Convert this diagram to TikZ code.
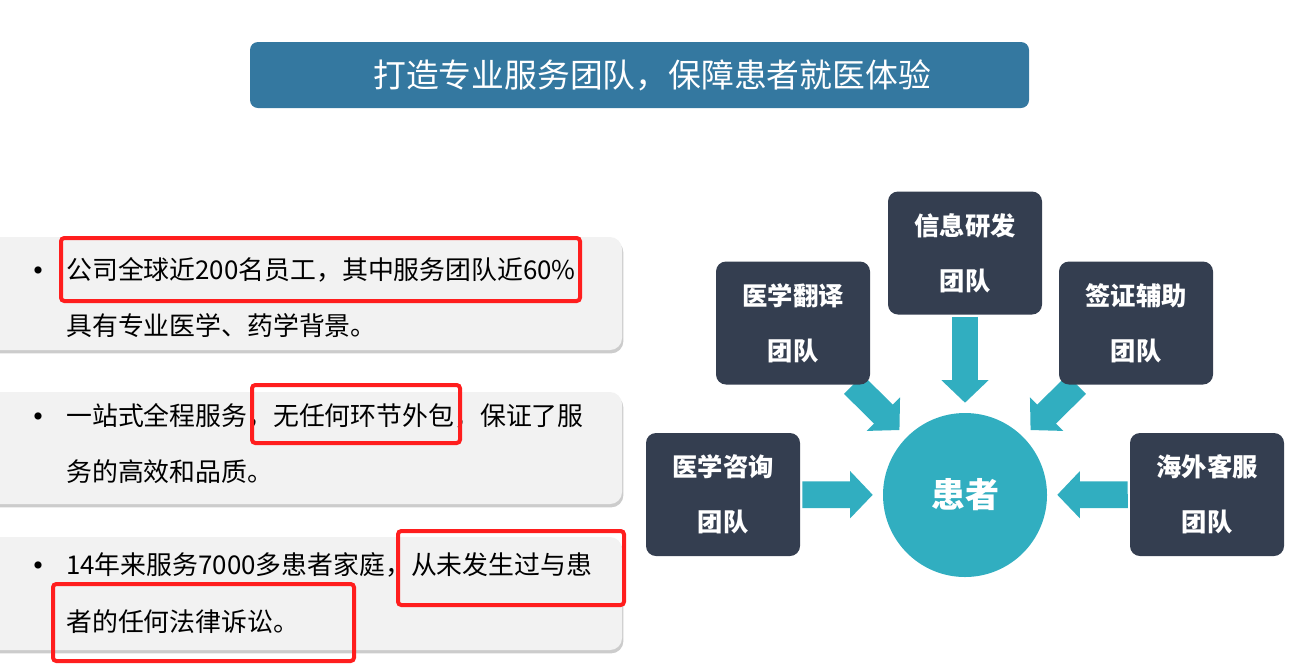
\documentclass[tikz,border=0pt]{standalone}
\usepackage{fontspec}
\setmainfont{Noto Sans CJK SC}
\usetikzlibrary{arrows.meta,shadows,backgrounds}
\definecolor{titleblue}{HTML}{3478A0}
\definecolor{navy}{HTML}{343E50}
\definecolor{teal}{HTML}{31AEC0}
\definecolor{panelgray}{HTML}{F2F2F2}
\definecolor{markred}{HTML}{FF1E1E}
\begin{document}
\begin{tikzpicture}[x=0.75pt,y=-0.75pt,
  panel/.style={fill=panelgray,rounded corners=9pt,
    drop shadow={shadow xshift=1pt,shadow yshift=-2.5pt,opacity=.4,fill=black!50}},
  line/.style={anchor=west,inner sep=0pt,font=\fontsize{19.4}{19.4}\selectfont},
  dot/.style={inner sep=0pt,font=\fontsize{6}{6}\selectfont},
  redmark/.style={draw=markred,line width=3pt,rounded corners=2.5pt},
  team/.style={fill=navy,rounded corners=7.5pt,minimum width=115.5pt,minimum height=92.25pt,
    text=white,align=center,font=\fontsize{19}{41.25}\selectfont\bfseries},
  blockarrow/.style={draw=teal,line width=20pt,-{Triangle[length=17pt,width=34.5pt]},
    shorten >=7.5pt,shorten <=1.5pt}]
\useasboundingbox (0,0) rectangle (1291,665);
\clip (0,0) rectangle (1291,665);
% title
\node[fill=titleblue,rounded corners=6pt,minimum width=584.25pt,minimum height=49.5pt] (title) at (639.5,75) {};
\node[text=white,font=\fontsize{24.6}{24.6}\selectfont] (titletext) at (652,75) {打造专业服务团队，保障患者就医体验};
% left panels
\path[panel] (-20,237) rectangle (622,350);
\path[panel] (-20,392) rectangle (622,504);
\path[panel] (-20,537) rectangle (622,650);
\node[dot] (d1) at (38,270) {●};
\node[line] (l1a) at (66,270) {公司全球近200名员工，其中服务团队近60\%};
\node[line] (l1b) at (66,326) {具有专业医学、药学背景。};
\node[dot] (d2) at (38,416) {●};
\node[line] (l2a) at (66,416) {一站式全程服务，无任何环节外包，保证了服};
\node[line] (l2b) at (66,472) {务的高效和品质。};
\node[dot] (d3) at (38,565) {●};
\node[line] (l3a) at (66,565) {14年来服务7000多患者家庭，从未发生过与患};
\node[line] (l3b) at (66,622) {者的任何法律诉讼。};
\draw[redmark] (61,238) rectangle (580,301);
\draw[redmark] (252,385) rectangle (460,443);
\draw[redmark] (398,531) rectangle (624,605);
\draw[redmark] (53,584) rectangle (354,661);
% teams
\node[circle,fill=teal,minimum size=123pt,text=white,
  font=\fontsize{25.5}{25.5}\selectfont\bfseries] (patient) at (965,495) {患者};
\node[team] (consult) at (723,494.5) {医学咨询\\团队};
\node[team] (transl) at (793,323) {医学翻译\\团队};
\node[team] (research) at (965,253) {信息研发\\团队};
\node[team] (visa) at (1136,323) {签证辅助\\团队};
\node[team] (overseas) at (1207,494.5) {海外客服\\团队};
\coordinate (tl) at (852,383);
\coordinate (tr) at (1078,383);
\begin{scope}[on background layer]
\draw[blockarrow] (consult) -- (patient);
\draw[blockarrow] (overseas) -- (patient);
\draw[blockarrow] (research) -- (patient);
\draw[blockarrow] (tl) -- (patient);
\draw[blockarrow] (tr) -- (patient);
\end{scope}
\end{tikzpicture}
\end{document}
